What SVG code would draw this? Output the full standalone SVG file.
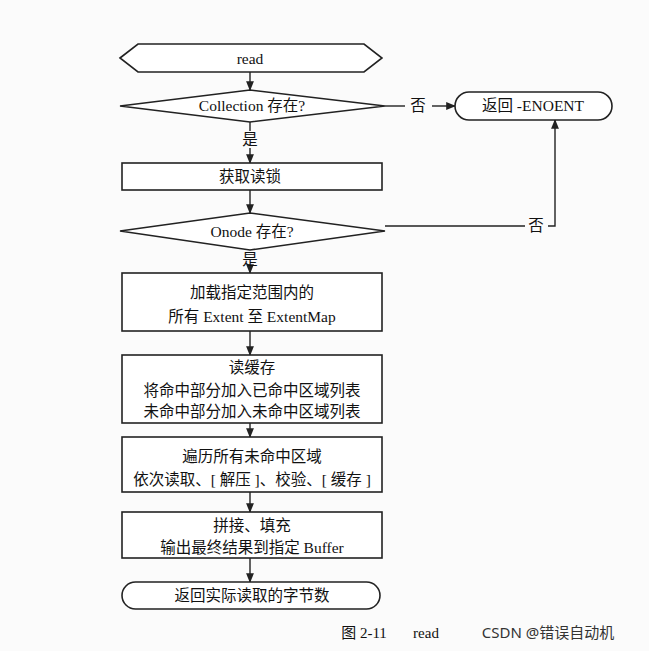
<svg xmlns="http://www.w3.org/2000/svg" width="649" height="651" viewBox="0 0 649 651">
<style>
.s{fill:#fff;stroke:#222;stroke-width:1.6}
.c{stroke:#222;stroke-width:1.4;fill:none}
text{font-family:"Liberation Serif","Noto Sans CJK SC",serif;font-size:15.5px;fill:#111;text-anchor:middle}
</style>
<defs><marker id="a" viewBox="0 0 10 10" refX="9" refY="5" markerWidth="7" markerHeight="7" orient="auto"><path d="M0,1 L10,5 L0,9 z" fill="#222"/></marker></defs>
<rect width="649" height="651" fill="#fbfbfb"/>
<g id="connectors">
<line class="c" x1="250" y1="72" x2="250" y2="90" marker-end="url(#a)"/>
<line class="c" x1="250" y1="122" x2="250" y2="131"/>
<line class="c" x1="250" y1="148" x2="250" y2="163" marker-end="url(#a)"/>
<line class="c" x1="385" y1="106" x2="405" y2="106"/>
<line class="c" x1="432" y1="106" x2="455" y2="106" marker-end="url(#a)"/>
<line class="c" x1="250" y1="190" x2="250" y2="213" marker-end="url(#a)"/>
<polyline class="c" points="385,226 525,226"/>
<polyline class="c" points="548,226 555,226 555,120" marker-end="url(#a)"/>
<line class="c" x1="250" y1="267" x2="250" y2="273" marker-end="url(#a)"/>
<line class="c" x1="250" y1="331" x2="250" y2="355" marker-end="url(#a)"/>
<line class="c" x1="250" y1="423" x2="250" y2="437" marker-end="url(#a)"/>
<line class="c" x1="250" y1="492" x2="250" y2="512" marker-end="url(#a)"/>
<line class="c" x1="250" y1="558" x2="250" y2="582" marker-end="url(#a)"/>
<text x="418" y="111">否</text>
<text x="536" y="231">否</text>
<text x="250" y="145">是</text>
<text x="250" y="265">是</text>
</g>
<g id="read"><polygon class="s" points="120,58 138,44 364,44 382,58 364,72 138,72"/><text x="250" y="64">read</text></g>
<g id="collection"><polygon class="s" points="120,106 250,90 385,106 250,122"/><text x="252" y="111">Collection 存在?</text></g>
<g id="enoent"><rect class="s" x="455" y="92" width="157" height="28" rx="14"/><text x="533" y="111">返回 -ENOENT</text></g>
<g id="lock"><rect class="s" x="122" y="163" width="260" height="27"/><text x="250" y="182">获取读锁</text></g>
<g id="onode"><polygon class="s" points="120,231 250,213 385,231 250,250"/><text x="252" y="237">Onode 存在?</text></g>
<g id="extent"><rect class="s" x="122" y="273" width="260" height="58"/><text x="252" y="298">加载指定范围内的</text><text x="252" y="322">所有 Extent 至 ExtentMap</text></g>
<g id="cache"><rect class="s" x="122" y="355" width="260" height="68"/><text x="252" y="373">读缓存</text><text x="252" y="396">将命中部分加入已命中区域列表</text><text x="252" y="417">未命中部分加入未命中区域列表</text></g>
<g id="miss"><rect class="s" x="122" y="437" width="260" height="55"/><text x="252" y="462">遍历所有未命中区域</text><text x="252" y="485">依次读取、[ 解压 ]、校验、[ 缓存 ]</text></g>
<g id="concat"><rect class="s" x="122" y="512" width="260" height="46"/><text x="252" y="531">拼接、填充</text><text x="252" y="553">输出最终结果到指定 Buffer</text></g>
<g id="ret"><rect class="s" x="122" y="582" width="258" height="27" rx="13.5"/><text x="252" y="601">返回实际读取的字节数</text></g>
<text x="364" y="638" style="font-size:15px">图 2-11</text>
<text x="426" y="638" style="font-size:15px">read</text>
<text x="548" y="638" style="font-family:'Noto Sans','Noto Sans CJK SC',sans-serif;font-size:15px;fill:#333">CSDN @错误自动机</text>
</svg>
